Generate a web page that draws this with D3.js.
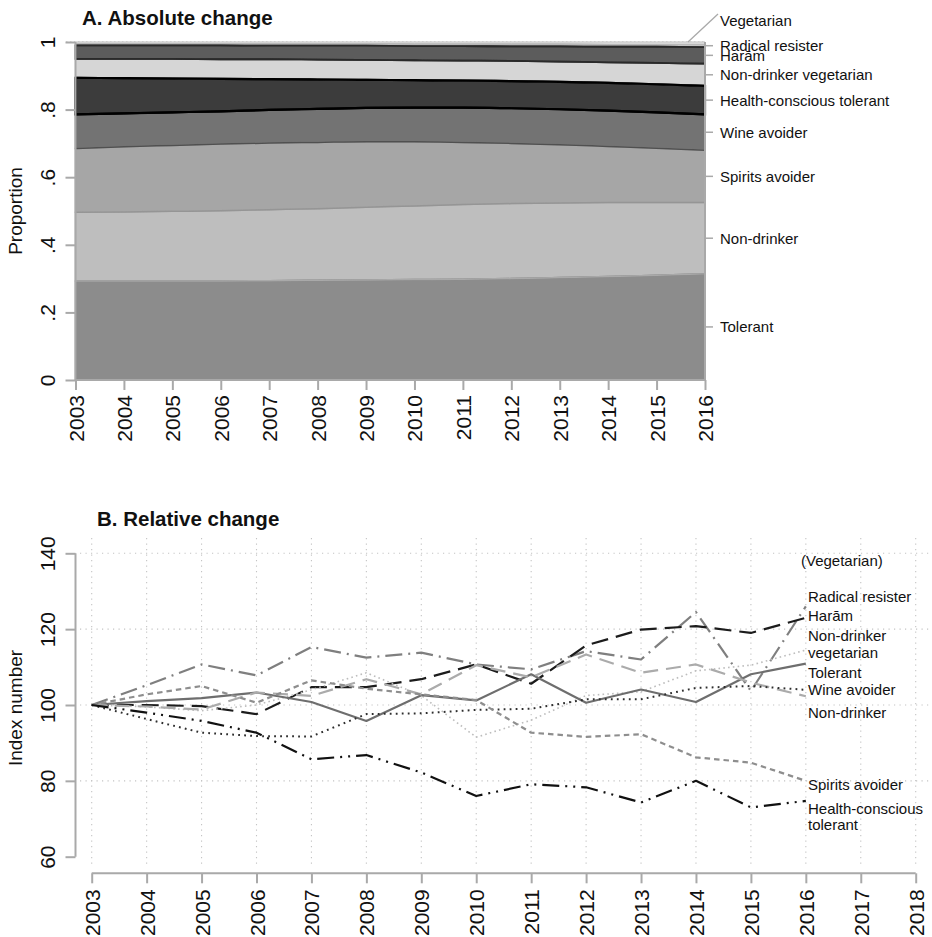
<!DOCTYPE html>
<html>
<head>
<meta charset="utf-8">
<script src="https://cdn.jsdelivr.net/npm/d3@7"></script>
<style>
  body { margin: 0; background: #fff; }
  text { font-family: "Liberation Sans", Arial, Helvetica, sans-serif; fill: #111; }
</style>
</head>
<body>
<svg id="chart" width="932" height="937"></svg>
<script>
// ---------- data ----------
const years = [2003, 2004, 2005, 2006, 2007, 2008, 2009, 2010, 2011, 2012, 2013, 2014, 2015, 2016];
const axisYearsB = [2003, 2004, 2005, 2006, 2007, 2008, 2009, 2010, 2011, 2012, 2013, 2014, 2015, 2016, 2017, 2018];

// Panel A: share of each drinking type (%), stacked bottom to top
const shareTolerant   = [29.3, 29.3, 29.3, 29.3, 29.4, 29.5, 29.6, 29.7, 29.8, 30.0, 30.3, 30.6, 31.0, 31.4];
const shareNonDrinker = [20.3, 20.4, 20.6, 20.8, 21.0, 21.2, 21.5, 21.8, 22.1, 22.2, 22.1, 21.9, 21.5, 21.1];
const shareSpirits    = [18.9, 19.3, 19.5, 19.7, 19.7, 19.6, 19.4, 19.0, 18.4, 17.8, 17.2, 16.6, 16.1, 15.5];
const shareWine       = [10.1,  9.9,  9.8,  9.7,  9.8,  9.9, 10.0, 10.1, 10.3, 10.4, 10.5, 10.6, 10.6, 10.6];
const shareHealth     = [10.8, 10.4, 10.0,  9.6,  9.1,  8.7,  8.3,  8.1,  8.0,  8.0,  8.1,  8.2,  8.3,  8.4];
const shareNDVeg      = [ 5.6,  5.7,  5.8,  5.8,  5.9,  5.9,  5.9,  5.9,  5.9,  6.0,  6.0,  6.1,  6.3,  6.6];
const shareHaram      = [ 4.0,  4.0,  4.0,  4.1,  4.0,  4.1,  4.2,  4.2,  4.3,  4.3,  4.5,  4.6,  4.8,  4.9];
const shareRadical    = [ 0.5,  0.5,  0.5,  0.5,  0.6,  0.6,  0.6,  0.6,  0.6,  0.7,  0.7,  0.7,  0.7,  0.8];
const shareVegetarian = [ 0.5,  0.5,  0.5,  0.5,  0.5,  0.5,  0.5,  0.6,  0.6,  0.6,  0.6,  0.7,  0.7,  0.7];

const typesA = ["Tolerant", "Non-drinker", "Spirits avoider", "Wine avoider", "Health-conscious tolerant",
                "Non-drinker vegetarian", "Harām", "Radical resister", "Vegetarian"];
const sharesA = [shareTolerant, shareNonDrinker, shareSpirits, shareWine, shareHealth,
                 shareNDVeg, shareHaram, shareRadical, shareVegetarian];
const proportionTicks = [0, 0.2, 0.4, 0.6, 0.8, 1];

// Panel B: index numbers (2003 = 100)
const idxRadical   = [100, 105.2, 110.7, 107.8, 115.3, 112.5, 113.8, 110.7, 109.4, 114.2, 112.0, 124.5, 103.7, 126.0];
const idxHaram     = [100, 100.0,  99.7,  97.6, 104.7, 104.7, 106.8, 110.7, 105.6, 115.7, 119.9, 120.8, 119.0, 123.0];
const idxNDVeg     = [100,  99.5,  98.5, 100.0, 104.0, 108.5, 102.5,  91.5,  96.0, 102.5, 103.5, 109.0, 110.5, 114.5];
const idxTolerant  = [100, 101.0, 101.8, 103.3, 100.8,  95.8, 102.6, 101.2, 108.1, 100.6, 104.1, 100.8, 108.1, 110.9];
const idxWine      = [100,  99.6,  98.8, 103.3, 102.4, 106.8, 102.8, 110.5, 107.3, 113.3, 108.5, 110.7, 105.9, 102.3];
const idxNonDrinker= [100,  96.3,  92.7,  91.8,  91.7,  97.6,  97.8,  98.7,  99.0, 101.5, 101.5, 104.5, 105.0, 104.0];
const idxSpirits   = [100, 102.8, 105.0, 100.6, 106.5, 104.3, 102.8, 101.3,  92.7,  91.6,  92.3,  86.2,  84.8,  80.0];
const idxHealth    = [100,  98.0,  95.8,  92.7,  85.7,  86.8,  82.2,  76.0,  79.1,  78.3,  74.3,  80.0,  73.0,  74.7];

const seriesB = [idxRadical, idxHaram, idxNDVeg, idxTolerant, idxWine, idxNonDrinker, idxSpirits, idxHealth];
const namesB  = ["Radical resister", "Harām", "Non-drinker vegetarian", "Tolerant", "Wine avoider",
                 "Non-drinker", "Spirits avoider", "Health-conscious tolerant"];
// end labels, each line of text, and the index level it sits at
const labelLinesB = [["(Vegetarian)"], ["Radical resister"], ["Harām"], ["Non-drinker", "vegetarian"],
                     ["Tolerant"], ["Wine avoider"], ["Non-drinker"], ["Spirits avoider"], ["Health-conscious", "tolerant"]];
const labelLevelB = [138.1, 128.6, 123.6, 118.3, 108.6, 104.1, 98.0, 79.0, 72.8];
const indexTicks = [60, 80, 100, 120, 140];
const indexGrid  = [80, 100, 120, 140];

// ---------- styles ----------
const fillA   = ["#8c8c8c", "#bebebe", "#a6a6a6", "#737373", "#3c3c3c", "#d6d6d6", "#5c5c5c", "#c4c4c4", "#e8e8e8"];
const strokeA = ["#7a7a7a", "#a9a9a9", "#959595", "#505050", "#000000", "#c2c2c2", "#2a2a2a", "#9a9a9a", "#bdbdbd"];
const strokeWA= [1.5, 1.5, 1.5, 1.5, 2.2, 1.2, 1.8, 1, 1];

const styleB = [
  { color: "#7f7f7f", dash: "17,6,2,6", width: 2.2 },
  { color: "#1c1c1c", dash: "17,8", width: 2.2 },
  { color: "#bdbdbd", dash: "1.6,3.2", width: 1.6 },
  { color: "#6e6e6e", dash: null, width: 2.2 },
  { color: "#ababab", dash: "15,8", width: 2.2 },
  { color: "#2e2e2e", dash: "1.8,4.2", width: 2 },
  { color: "#8e8e8e", dash: "5.5,4", width: 2.2 },
  { color: "#111111", dash: "17,6,2,6,2,6", width: 2.2 }
];
const axisColor = "#a9a9a9";

const svg = d3.select("#chart");

// ================= Panel A: stacked shares =================
const xA = d3.scaleLinear().domain([2003, 2016]).range([75.5, 705]);
const yA = d3.scaleLinear().domain([0, 1]).range([380, 42]);

const rowsA = years.map((yr, i) => {
  const r = { year: yr };
  typesA.forEach((t, k) => { r[t] = sharesA[k][i] / 100; });
  return r;
});
const stackA = d3.stack().keys(typesA)(rowsA);

const gA = svg.append("g");
gA.append("text").attr("x", 82).attr("y", 25)
  .style("font-size", "20.5px").style("font-weight", "bold").text("A. Absolute change");

// dotted line at the top of the scale
gA.append("line").attr("x1", 66).attr("x2", xA(2016)).attr("y1", yA(1)).attr("y2", yA(1))
  .attr("stroke", "#bdbdbd").attr("stroke-width", 1.2).attr("stroke-dasharray", "1.5,2.5");

const areaA = d3.area().x(d => xA(d.data.year)).y0(d => yA(d[0])).y1(d => yA(d[1])).curve(d3.curveMonotoneX);
const topLineA = d3.line().x(d => xA(d.data.year)).y(d => yA(d[1])).curve(d3.curveMonotoneX);
const botLineA = d3.line().x(d => xA(d.data.year)).y(d => yA(d[0])).curve(d3.curveMonotoneX);

gA.selectAll("path.band").data(stackA).join("path").attr("class", "band")
  .attr("d", areaA).attr("fill", (d, i) => fillA[i]);
// band outlines (left and right edges plus boundaries)
gA.selectAll("path.edge").data(stackA).join("path").attr("class", "edge")
  .attr("d", areaA).attr("fill", "none")
  .attr("stroke", (d, i) => strokeA[i]).attr("stroke-width", (d, i) => strokeWA[i]);
// make the darkest bands' borders sit on top
[4, 6].forEach(k => {
  gA.append("path").datum(stackA[k]).attr("d", topLineA).attr("fill", "none")
    .attr("stroke", strokeA[k]).attr("stroke-width", strokeWA[k]);
  gA.append("path").datum(stackA[k]).attr("d", botLineA).attr("fill", "none")
    .attr("stroke", strokeA[k]).attr("stroke-width", strokeWA[k]);
});

// left axis
const axisLeftA = d3.axisLeft(yA).tickValues(proportionTicks).tickSize(10)
  .tickFormat(d => d === 0 ? "0" : d === 1 ? "1" : d3.format(".1f")(d).replace(/^0/, ""));
const gAxL = gA.append("g").attr("transform", "translate(75.5,0)").call(axisLeftA);
gAxL.select(".domain").attr("stroke", axisColor).attr("stroke-width", 2).attr("d", `M0,${yA(0)}V${yA(1)}`);
gAxL.selectAll(".tick line").attr("stroke", axisColor).attr("stroke-width", 2);
gAxL.selectAll(".tick text").attr("x", null).attr("dy", null)
  .attr("transform", "translate(-20.5,0) rotate(-90)").attr("text-anchor", "middle")
  .style("font-size", "21px").attr("fill", "#111");

gA.append("text").attr("transform", `translate(22,${(yA(0) + yA(1)) / 2}) rotate(-90)`)
  .attr("text-anchor", "middle").style("font-size", "19px").text("Proportion");

// bottom axis
const axisBotA = d3.axisBottom(xA).tickValues(years).tickSize(10).tickFormat(d3.format("d"));
const gAxB = gA.append("g").attr("transform", `translate(0,${yA(0)})`).call(axisBotA);
gAxB.select(".domain").attr("stroke", axisColor).attr("stroke-width", 2).attr("d", `M${xA(2003)},0H${xA(2016)}`);
gAxB.selectAll(".tick line").attr("stroke", axisColor).attr("stroke-width", 2);
gAxB.selectAll(".tick text").attr("y", null).attr("dy", null)
  .attr("transform", "translate(0,15) rotate(-90)").attr("text-anchor", "end")
  .attr("dominant-baseline", "central").style("font-size", "21px").attr("fill", "#111");

// right axis with labels at the middle of each band in the last year
const lastA = stackA.map(s => s[s.length - 1]);
const midA = lastA.map(d => (d[0] + d[1]) / 2);
const xR = xA(2016);
gA.append("line").attr("x1", xR).attr("x2", xR).attr("y1", yA(1)).attr("y2", yA(0))
  .attr("stroke", axisColor).attr("stroke-width", 2);
typesA.forEach((t, k) => {
  if (t === "Vegetarian") {
    gA.append("line").attr("x1", xR - 17).attr("y1", yA(1)).attr("x2", 718).attr("y2", 14)
      .attr("stroke", axisColor).attr("stroke-width", 1.3);
    gA.append("text").attr("x", 720).attr("y", 20).attr("dominant-baseline", "central")
      .style("font-size", "15px").text(t);
  } else {
    gA.append("line").attr("x1", xR).attr("x2", xR + 8).attr("y1", yA(midA[k])).attr("y2", yA(midA[k]))
      .attr("stroke", axisColor).attr("stroke-width", 1.5);
    gA.append("text").attr("x", 720).attr("y", yA(midA[k])).attr("dominant-baseline", "central")
      .style("font-size", "15px").text(t);
  }
});

// ================= Panel B: index lines =================
const xB = d3.scaleLinear().domain([2003, 2018]).range([91.7, 915.7]);
const yB = d3.scaleLinear().domain([60, 140]).range([856.7, 553.3]);

const gB = svg.append("g");
gB.append("text").attr("x", 97).attr("y", 526)
  .style("font-size", "20.5px").style("font-weight", "bold").text("B. Relative change");

// dotted grid
gB.selectAll("line.vgrid").data(axisYearsB).join("line").attr("class", "vgrid")
  .attr("x1", d => xB(d)).attr("x2", d => xB(d)).attr("y1", 538).attr("y2", 866)
  .attr("stroke", "#c4c4c4").attr("stroke-width", 1.1).attr("stroke-dasharray", "1.2,4.3");
gB.selectAll("line.hgrid").data(indexGrid).join("line").attr("class", "hgrid")
  .attr("x1", 80).attr("x2", 930).attr("y1", d => yB(d)).attr("y2", d => yB(d))
  .attr("stroke", "#c4c4c4").attr("stroke-width", 1.1).attr("stroke-dasharray", "1.2,4.3");

// left axis
const axisLeftB = d3.axisLeft(yB).tickValues(indexTicks).tickSize(10).tickFormat(d3.format("d"));
const gBxL = gB.append("g").attr("transform", "translate(75.5,0)").call(axisLeftB);
gBxL.select(".domain").attr("stroke", axisColor).attr("stroke-width", 2).attr("d", `M0,${yB(60)}V${yB(140)}`);
gBxL.selectAll(".tick line").attr("stroke", axisColor).attr("stroke-width", 2);
gBxL.selectAll(".tick text").attr("x", null).attr("dy", null)
  .attr("transform", "translate(-20.5,0) rotate(-90)").attr("text-anchor", "middle")
  .style("font-size", "21px").attr("fill", "#111");

gB.append("text").attr("transform", `translate(22,${yB(100) + 3}) rotate(-90)`)
  .attr("text-anchor", "middle").style("font-size", "19px").text("Index number");

// bottom axis
const axisBotB = d3.axisBottom(xB).tickValues(axisYearsB).tickSize(10).tickFormat(d3.format("d"));
const gBxB = gB.append("g").attr("transform", "translate(0,873.3)").call(axisBotB);
gBxB.select(".domain").attr("stroke", axisColor).attr("stroke-width", 2).attr("d", `M${xB(2003)},0H${xB(2018)}`);
gBxB.selectAll(".tick line").attr("stroke", axisColor).attr("stroke-width", 2);
gBxB.selectAll(".tick text").attr("y", null).attr("dy", null)
  .attr("transform", "translate(0,16) rotate(-90)").attr("text-anchor", "end")
  .attr("dominant-baseline", "central").style("font-size", "21px").attr("fill", "#111");

// lines
const lineB = d3.line().x((d, i) => xB(years[i])).y(d => yB(d));
seriesB.forEach((s, k) => {
  gB.append("path").datum(s).attr("d", lineB).attr("fill", "none")
    .attr("stroke", styleB[k].color).attr("stroke-width", styleB[k].width)
    .attr("stroke-dasharray", styleB[k].dash).attr("stroke-linejoin", "round")
    .attr("aria-label", namesB[k]);
});

// end labels
labelLinesB.forEach((lines, k) => {
  const x0 = lines[0].startsWith("(") ? 801 : 808;
  lines.forEach((txt, j) => {
    gB.append("text").attr("x", x0).attr("y", yB(labelLevelB[k]) + j * 16.5)
      .attr("dominant-baseline", "central").style("font-size", "15px").text(txt);
  });
});
</script>
</body>
</html>
